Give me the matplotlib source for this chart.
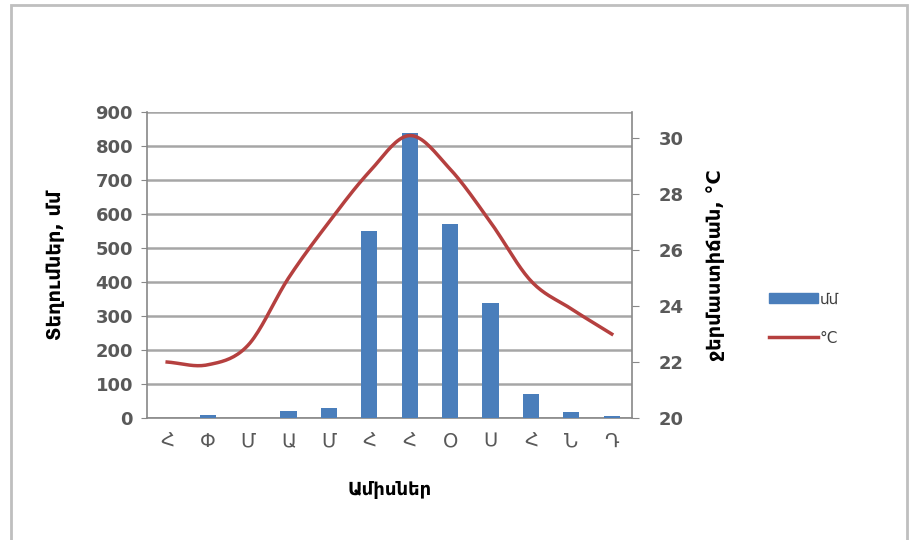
import matplotlib

matplotlib.use("Agg")
import matplotlib.pyplot as plt
import numpy as np
from matplotlib.patches import Rectangle
from matplotlib.lines import Line2D
from matplotlib.patches import Patch

plt.rcParams["font.family"] = ["DejaVu Sans"]

months = ["Հ", "Փ", "Մ", "Ա", "Մ", "Հ", "Հ", "Օ", "Ս", "Հ", "Ն", "Դ"]
precip_mm = [1, 8, 1, 20, 30, 550, 838, 570, 338, 70, 18, 7]
temp_c = [22.0, 21.9, 22.6, 25.0, 27.0, 28.8, 30.1, 28.9, 27.0, 24.9, 23.9, 23.0]

BAR_COLOR = "#4a7ebb"
LINE_COLOR = "#b5403f"
TICK_COLOR = "#595959"


def smooth(x, y, n=20):
    # Catmull-Rom style smoothing like Excel's "smoothed line"
    x = np.asarray(x, float)
    y = np.asarray(y, float)
    px = np.concatenate([[2 * x[0] - x[1]], x, [2 * x[-1] - x[-2]]])
    py = np.concatenate([[2 * y[0] - y[1]], y, [2 * y[-1] - y[-2]]])
    xs, ys = [], []
    t = np.linspace(0, 1, n, endpoint=False)
    for i in range(1, len(px) - 2):
        p0, p1, p2, p3 = py[i - 1], py[i], py[i + 1], py[i + 2]
        q0, q1, q2, q3 = px[i - 1], px[i], px[i + 1], px[i + 2]
        def cr(a0, a1, a2, a3):
            return 0.5 * (2 * a1 + (-a0 + a2) * t + (2 * a0 - 5 * a1 + 4 * a2 - a3) * t ** 2
                          + (-a0 + 3 * a1 - 3 * a2 + a3) * t ** 3)
        xs.append(cr(q0, q1, q2, q3))
        ys.append(cr(p0, p1, p2, p3))
    xs.append([x[-1]])
    ys.append([y[-1]])
    return np.concatenate(xs), np.concatenate(ys)


fig = plt.figure(figsize=(9.1, 5.4), dpi=100)
fig.patches.append(Rectangle((0.012, -0.01), 0.985, 1.0, transform=fig.transFigure,
                             fill=False, edgecolor="#bfbfbf", lw=2))

ax = fig.add_axes([0.1615, 0.226, 0.533, 0.567])
x = np.arange(len(months))
ax.bar(x, precip_mm, width=0.4, color=BAR_COLOR, zorder=3)
ax.set_xlim(-0.5, len(months) - 0.5)
ax.set_ylim(0, 900)
ax.set_yticks(range(0, 901, 100))
ax.yaxis.grid(True, color="#a6a6a6", lw=1.8)
ax.set_axisbelow(True)
ax.set_xticks(x)
ax.set_xticklabels(months, fontsize=14, color=TICK_COLOR)
ax.tick_params(axis="x", length=0, pad=10)
ax.tick_params(axis="y", length=4, color="#888888", labelsize=13, labelcolor=TICK_COLOR, pad=6)
for lab in ax.get_yticklabels():
    lab.set_fontweight("bold")
for side in ["top", "right"]:
    ax.spines[side].set_visible(False)
for side in ["left", "bottom"]:
    ax.spines[side].set_color("#888888")
    ax.spines[side].set_linewidth(1.2)
ax.set_ylabel("Տեղումներ, մմ", fontsize=14, fontweight="bold", labelpad=22)
ax.set_xlabel("Ամիսներ", fontsize=13, fontweight="bold", labelpad=22)

ax2 = ax.twinx()
sx, sy = smooth(x, temp_c)
ax2.plot(sx, sy, color=LINE_COLOR, lw=2.5, zorder=4)
ax2.set_ylim(20, 30.95)
ax2.set_yticks(range(20, 31, 2))
ax2.tick_params(axis="y", length=5, color="#888888", labelsize=13, labelcolor=TICK_COLOR, pad=14)
for lab in ax2.get_yticklabels():
    lab.set_fontweight("bold")
for side in ["top", "left", "bottom"]:
    ax2.spines[side].set_visible(False)
ax2.spines["right"].set_color("#888888")
ax2.spines["right"].set_linewidth(1.2)
ax2.set_ylabel("ջերմաստիճան, °C", fontsize=14, fontweight="bold", rotation=90, labelpad=16)

handles = [Patch(color=BAR_COLOR), Line2D([0], [0], color=LINE_COLOR, lw=2.5)]
fig.legend(handles, ["մմ", "°C"], loc="center left", bbox_to_anchor=(0.83, 0.41),
           frameon=False, fontsize=11, handlelength=3.2, handleheight=0.7,
           labelspacing=1.6, handletextpad=0.1, labelcolor="#404040")

fig.savefig("out.png", dpi=100)
